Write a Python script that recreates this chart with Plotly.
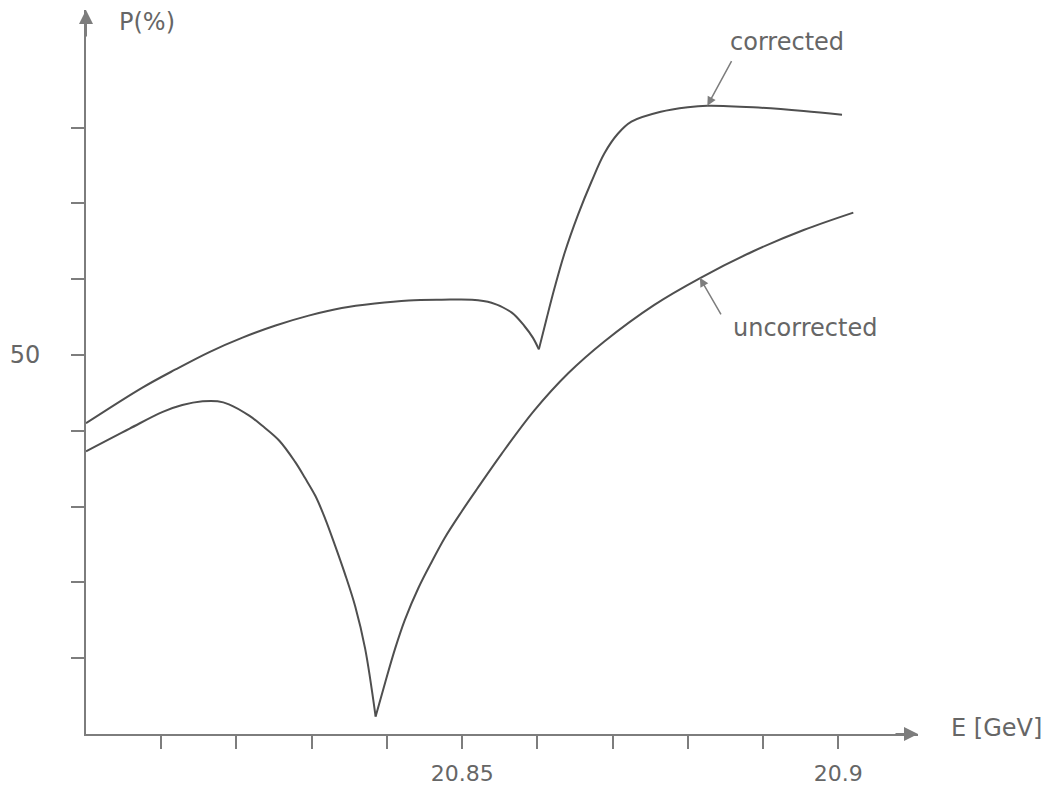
import plotly.graph_objects as go

# ---- data ----
corr_E = [20.8000, 20.8075, 20.8119, 20.8164, 20.8208, 20.8252, 20.8296, 20.8340,
          20.8384, 20.8429, 20.8473, 20.8513, 20.8539, 20.8566, 20.8583, 20.8594,
          20.8602, 20.8612, 20.8623, 20.8636, 20.8654, 20.8672, 20.8689, 20.8707,
          20.8725, 20.8764, 20.8800, 20.8826, 20.8887, 20.8954, 20.9005]
corr_P = [41.0, 45.7, 48.1, 50.4, 52.3, 53.9, 55.2, 56.2,
          56.8, 57.2, 57.3, 57.3, 56.9, 55.6, 53.8, 52.3,
          50.75, 54.7, 58.9, 63.4, 68.5, 72.9, 76.6, 79.2,
          80.8, 82.1, 82.7, 82.9, 82.7, 82.2, 81.7]
corr_cusp = 16  # index of the cusp

unc_E = [20.8000, 20.8058, 20.8102, 20.8128, 20.8155, 20.8175, 20.8190, 20.8217,
         20.8234, 20.8257, 20.8278, 20.8291, 20.8305, 20.8318, 20.8331, 20.8344,
         20.8358, 20.8371, 20.8385,
         20.8398, 20.8411, 20.8424, 20.8442, 20.8460, 20.8477, 20.8499, 20.8521,
         20.8552, 20.8596, 20.8641, 20.8689, 20.8755, 20.8817, 20.8887, 20.8954,
         20.9020]
unc_P = [37.3, 40.3, 42.5, 43.4, 43.9, 43.9, 43.5, 42.0,
         40.7, 38.7, 35.9, 33.8, 31.4, 28.4, 24.9, 21.2,
         16.8, 11.3, 2.3,
         6.9, 11.3, 15.1, 19.3, 22.8, 25.9, 29.3, 32.5,
         36.9, 42.7, 47.6, 51.8, 56.6, 60.2, 63.7, 66.5,
         68.8]
unc_cusp = 18

x_tickvals = [20.81, 20.82, 20.83, 20.84, 20.85, 20.86, 20.87, 20.88, 20.89, 20.90]
x_ticktext = ["", "", "", "", "20.85", "", "", "", "", "20.9"]
y_tickvals = [10, 20, 30, 40, 50, 60, 70, 80]
y_ticktext = ["", "", "", "", "50", "", "", ""]

X_MIN, X_MAX = 20.80, 20.9106
Y_MIN, Y_MAX = 0, 95.53

LINE = "#4f4f4f"
AXIS = "#7d7d7d"
TEXT = "#666666"
FONT = "DejaVu Sans"

fig = go.Figure()


def add_segments(xs, ys, cusp):
    for a, b in ((0, cusp + 1), (cusp, len(xs))):
        fig.add_trace(go.Scatter(x=xs[a:b], y=ys[a:b], mode="lines",
                                 line=dict(color=LINE, width=2, shape="spline", smoothing=1.0),
                                 showlegend=False, hoverinfo="skip"))


add_segments(corr_E, corr_P, corr_cusp)
add_segments(unc_E, unc_P, unc_cusp)

fig.update_layout(
    width=1040, height=780,
    margin=dict(l=75, r=130, t=2, b=52),
    paper_bgcolor="white", plot_bgcolor="white",
    font=dict(family=FONT, color=TEXT, size=22),
    xaxis=dict(range=[X_MIN, X_MAX], showgrid=False, zeroline=False,
               showline=True, linecolor=AXIS, linewidth=2,
               ticks="outside", ticklen=13, tickwidth=2, tickcolor=AXIS,
               tickvals=x_tickvals, ticktext=x_ticktext,
               tickfont=dict(family=FONT, size=22, color=TEXT),
               ticklabelstandoff=6),
    yaxis=dict(range=[Y_MIN, Y_MAX], showgrid=False, zeroline=False,
               showline=True, linecolor=AXIS, linewidth=2,
               ticks="outside", ticklen=13, tickwidth=2, tickcolor=AXIS,
               tickvals=y_tickvals, ticktext=y_ticktext,
               tickfont=dict(family=FONT, size=24, color=TEXT),
               ticklabelstandoff=26),
)

# axis arrowheads
fig.add_annotation(x=X_MAX, y=0, xref="x", yref="y", ax=-24, ay=0, text="",
                   showarrow=True, arrowhead=2, arrowsize=1.4, arrowwidth=2,
                   arrowcolor=AXIS, standoff=0)
fig.add_annotation(x=X_MIN, y=Y_MAX, xref="x", yref="y", ax=0, ay=28, text="",
                   showarrow=True, arrowhead=2, arrowsize=1.4, arrowwidth=2,
                   arrowcolor=AXIS, standoff=0)

# axis titles
fig.add_annotation(x=20.8081, y=93.9, xref="x", yref="y", text="P(%)",
                   showarrow=False, font=dict(family=FONT, size=24, color=TEXT))
fig.add_annotation(x=1.0946, y=0.008, xref="paper", yref="paper", text="E [GeV]",
                   xanchor="center", yanchor="middle",
                   showarrow=False, font=dict(family=FONT, size=24, color=TEXT))

# curve labels
fig.add_annotation(x=20.8932, y=91.3, xref="x", yref="y", text="corrected",
                   showarrow=False, font=dict(family=FONT, size=24, color=TEXT))
fig.add_annotation(x=20.8826, y=82.9, xref="x", yref="y", ax=25, ay=-46, text="",
                   showarrow=True, arrowhead=2, arrowsize=1.2, arrowwidth=1.5,
                   arrowcolor=AXIS, standoff=0)
fig.add_annotation(x=20.8956, y=53.6, xref="x", yref="y", text="uncorrected",
                   showarrow=False, font=dict(family=FONT, size=24, color=TEXT))
fig.add_annotation(x=20.8816, y=60.2, xref="x", yref="y", ax=22, ay=38, text="",
                   showarrow=True, arrowhead=2, arrowsize=1.2, arrowwidth=1.5,
                   arrowcolor=AXIS, standoff=0)

fig.write_html("out.html")
